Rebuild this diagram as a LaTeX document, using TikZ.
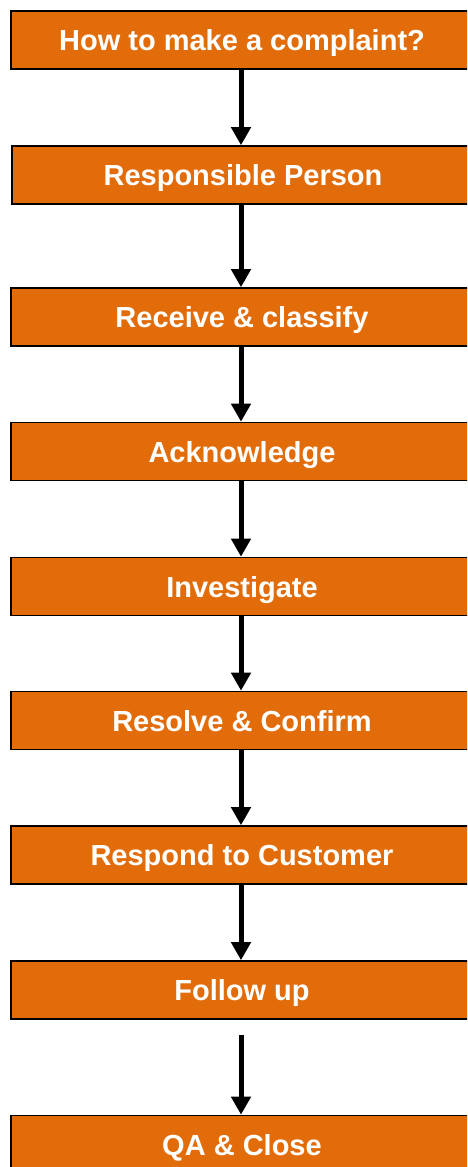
\documentclass[tikz,border=0pt]{standalone}
\usepackage{fontspec}
\setmainfont{Liberation Sans}
\usetikzlibrary{arrows.meta}
\definecolor{boxorange}{RGB}{227,108,10}
\begin{document}
\begin{tikzpicture}[x=1pt,y=-1pt,
  stepbox/.style={rectangle, fill=boxorange, draw=black, line width=1.6pt,
    minimum width=462pt, minimum height=58pt, inner sep=0pt,
    text height=21pt, text depth=0pt,
    text=white, font=\fontsize{29}{34}\selectfont\bfseries},
  flow/.style={line width=5pt, -{Triangle[width=19pt,length=18pt]}}]
\useasboundingbox (0,0) rectangle (467,1167);
\clip (0,0) rectangle (467,1167);
\node[stepbox] (b1) at (242,40) {How to make a complaint?};
\node[stepbox] (b2) at (243,175) {Responsible Person};
\node[stepbox] (b3) at (242,317) {Receive \& classify};
\node[stepbox] (b4) at (242,451.5) {Acknowledge};
\node[stepbox] (b5) at (242,586.5) {Investigate};
\node[stepbox] (b6) at (242,720.5) {Resolve \& Confirm};
\node[stepbox] (b7) at (242,855) {Respond to Customer};
\node[stepbox] (b8) at (242,990) {Follow up};
\node[stepbox] (b9) at (242,1144.5) {QA \& Close};
\coordinate (s8) at (241,1035);
\draw[flow] ([xshift=-1pt]b1.south) -- ([xshift=-1pt]b1.south |- b2.north);
\draw[flow] ([xshift=-2pt]b2.south) -- ([xshift=-2pt]b2.south |- b3.north);
\draw[flow] ([xshift=-1pt]b3.south) -- ([xshift=-1pt]b3.south |- b4.north);
\draw[flow] ([xshift=-1pt]b4.south) -- ([xshift=-1pt]b4.south |- b5.north);
\draw[flow] ([xshift=-1pt]b5.south) -- ([xshift=-1pt]b5.south |- b6.north);
\draw[flow] ([xshift=-1pt]b6.south) -- ([xshift=-1pt]b6.south |- b7.north);
\draw[flow] ([xshift=-1pt]b7.south) -- ([xshift=-1pt]b7.south |- b8.north);
\draw[flow] (s8) -- (s8 |- b9.north);
\end{tikzpicture}
\end{document}
